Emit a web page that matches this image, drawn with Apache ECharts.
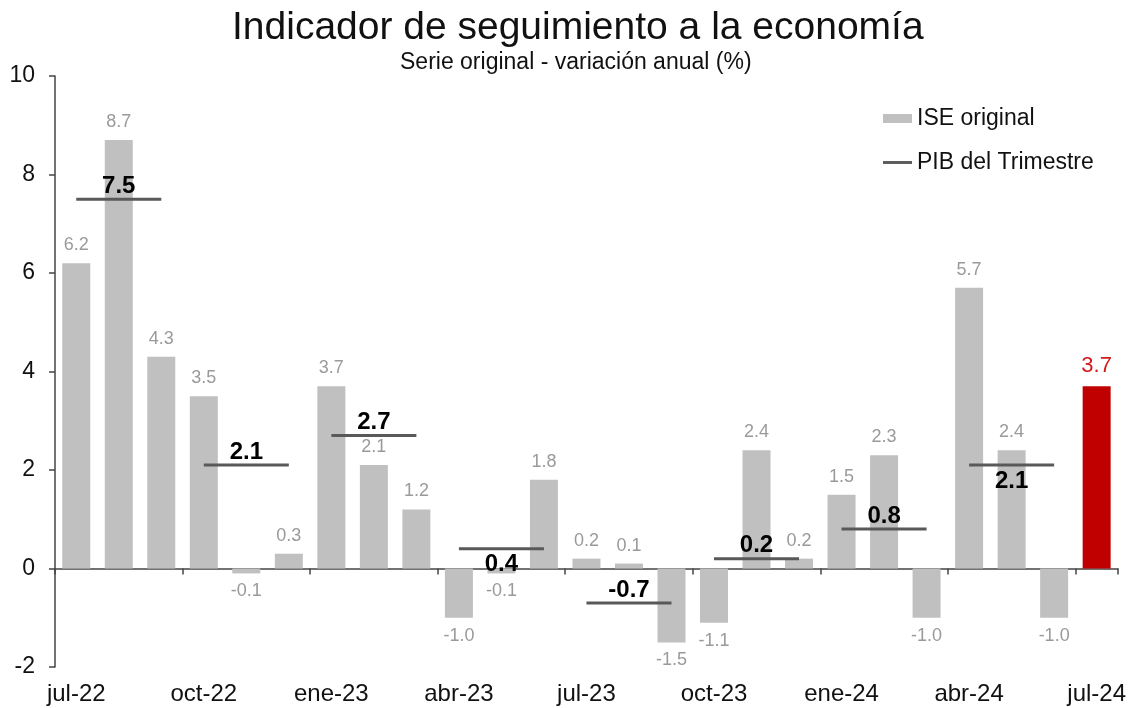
<!DOCTYPE html>
<html><head><meta charset="utf-8">
<script src="https://cdn.jsdelivr.net/npm/echarts@6/dist/echarts.min.js"></script>
<style>html,body{margin:0;padding:0;background:#fff}#c{width:1129px;height:708px}</style>
</head><body><div id="c"></div>
<script>
const months = ['jul-22','ago-22','sep-22','oct-22','nov-22','dic-22','ene-23','feb-23','mar-23','abr-23','may-23','jun-23','jul-23','ago-23','sep-23','oct-23','nov-23','dic-23','ene-24','feb-24','mar-24','abr-24','may-24','jun-24','jul-24'];
const iseValues = [6.2, 8.7, 4.3, 3.5, -0.1, 0.3, 3.7, 2.1, 1.2, -1.0, -0.1, 1.8, 0.2, 0.1, -1.5, -1.1, 2.4, 0.2, 1.5, 2.3, -1.0, 5.7, 2.4, -1.0, 3.7];
const quarterStart = [0, 3, 6, 9, 12, 15, 18, 21];
const pibValues = [7.5, 2.1, 2.7, 0.4, -0.7, 0.2, 0.8, 2.1];
const pibLabelPos = ['top','top','top','bottom','top','top','top','bottom'];
const yTicks = [-2, 0, 2, 4, 6, 8, 10];

const FONT = 'Liberation Sans, Arial, sans-serif';
const barData = iseValues.map((v, i) => {
  const last = i === iseValues.length - 1;
  return {
    value: v,
    itemStyle: { color: last ? '#c00000' : '#c0c0c0' },
    label: {
      show: true,
      position: v >= 0 ? 'top' : 'bottom',
      distance: 9,
      color: last ? '#d11a1a' : '#9a9a9a',
      fontSize: last ? 22 : 18,
      fontFamily: FONT,
      formatter: p => p.value.toFixed(1)
    }
  };
});

const pibSeries = pibValues.map((v, q) => {
  const data = months.map(() => null);
  const s = quarterStart[q];
  for (let k = 0; k < 3; k++) data[s + k] = v;
  return {
    name: 'PIB del Trimestre',
    type: 'line',
    xAxisIndex: 0,
    data: data.map((d, i) => d === null ? null : {
      value: d,
      label: {
        show: i === s + 1,
        position: pibLabelPos[q],
        distance: pibLabelPos[q] === 'top' ? 1 : 4,
        fontWeight: 'bold',
        fontSize: 24,
        color: '#000',
        fontFamily: FONT,
        formatter: p => p.value.toFixed(1)
      }
    }),
    symbol: 'circle',
    symbolSize: 0.01,
    showSymbol: true,
    lineStyle: { color: '#595959', width: 3 },
    itemStyle: { color: '#595959' },
    z: 5,
    silent: true
  };
});

const chart = echarts.init(document.getElementById('c'));
chart.setOption({
  animation: false,
  backgroundColor: '#fff',
  title: [
    { text: 'Indicador de seguimiento a la economía', left: 232, top: 9, padding: 0,
      textStyle: { fontFamily: FONT, fontSize: 39, fontWeight: 'normal', color: '#111' } },
    { text: 'Serie original - variación anual (%)', left: 400, top: 51, padding: 0,
      textStyle: { fontFamily: FONT, fontSize: 23, fontWeight: 'normal', color: '#111' } }
  ],
  legend: {
    orient: 'vertical',
    left: 883, top: 107, padding: 0,
    itemWidth: 29, itemHeight: 9, itemGap: 21,
    textStyle: { fontFamily: FONT, fontSize: 23, color: '#111' },
    data: [
      { name: 'ISE original', icon: 'rect', itemStyle: { color: '#c0c0c0' } },
      { name: 'PIB del Trimestre', icon: 'path://M0,0 L30,0 L30,3 L0,3 Z', itemStyle: { color: '#595959' } }
    ]
  },
  grid: { left: 55, right: 11, top: 76, bottom: 41, containLabel: false },
  xAxis: [
    { type: 'category', data: months, position: 'bottom',
      axisLine: { onZero: true, lineStyle: { color: '#444', width: 1.5 } },
      axisTick: { show: true, interval: 2, length: 6, inside: false, lineStyle: { color: '#444', width: 1.5 } },
      axisLabel: { show: false } },
    { type: 'category', data: months, position: 'bottom', offset: 0,
      axisLine: { show: false, onZero: false },
      axisTick: { show: false },
      axisLabel: { show: true, interval: 2, margin: 15, fontFamily: FONT, fontSize: 24, color: '#111' } }
  ],
  yAxis: {
    type: 'value', min: -2, max: 10, interval: 2,
    splitLine: { show: false },
    axisLine: { show: true, lineStyle: { color: '#444', width: 1.5 } },
    axisTick: { show: true, length: 6, lineStyle: { color: '#444', width: 1.5 } },
    axisLabel: { fontFamily: FONT, fontSize: 23, color: '#111', margin: 20,
      formatter: v => yTicks.includes(v) ? String(v) : '' }
  },
  series: [
    { name: 'ISE original', type: 'bar', xAxisIndex: 0, barWidth: 28, data: barData,
      itemStyle: { color: '#c0c0c0' }, z: 2 },
    ...pibSeries
  ]
});
</script></body></html>
